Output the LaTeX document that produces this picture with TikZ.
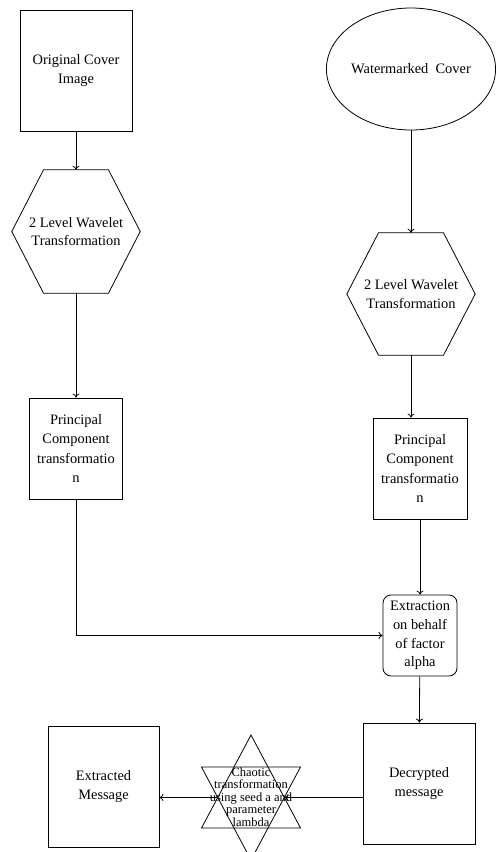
\documentclass[tikz,border=0pt]{standalone}
\usepackage{fontspec}
\setmainfont{Liberation Serif}
\usetikzlibrary{shapes.geometric,arrows.meta,calc}
\begin{document}
\begin{tikzpicture}[x=1pt,y=-1pt,
  every node/.style={font=\fontsize{14.4}{18.7}\selectfont, align=center, inner sep=0pt},
  box/.style={draw, rectangle, line width=0.8pt},
  pcatext/.style={font=\fontsize{14.4}{19.2}\selectfont},
  arr/.style={line width=0.8pt, -{To[length=4pt,width=7pt]}},
  shapeline/.style={line width=0.8pt, line join=miter}]
\clip (0,0) rectangle (498,852);
% left column
\node[box, minimum width=112, minimum height=121] (orig) at (76,70.5) {Original Cover\\Image};
\node[minimum width=128, minimum height=123] (hexA) at (76,231.5) {2 Level Wavelet\\Transformation};
\draw[shapeline] (hexA.west) -- ($(hexA.north)+(-32.5,0)$) -- ($(hexA.north)+(32.5,0)$) -- (hexA.east) -- ($(hexA.south)+(32.5,0)$) -- ($(hexA.south)+(-32.5,0)$) -- cycle;
\node[box, pcatext, minimum width=93, minimum height=101] (pcaA) at (76,448.5) {Principal\\Component\\transformatio\\n};
% right column
\node[draw, ellipse, line width=0.8pt, minimum width=168, minimum height=122] (wm) at (411,69) {Watermarked\ \ Cover};
\node[minimum width=128, minimum height=122] (hexB) at (411,294) {2 Level Wavelet\\Transformation};
\draw[shapeline] (hexB.west) -- ($(hexB.north)+(-32.5,0)$) -- ($(hexB.north)+(32.5,0)$) -- (hexB.east) -- ($(hexB.south)+(32.5,0)$) -- ($(hexB.south)+(-32.5,0)$) -- cycle;
\node[box, pcatext, minimum width=94, minimum height=101] (pcaB) at (420,468.5) {Principal\\Component\\transformatio\\n};
\node[box, rounded corners=8pt, minimum width=74, minimum height=81] (extr) at (420,635.5) {Extraction\\on behalf\\of factor\\alpha};
\node[box, minimum width=112, minimum height=121] (dec) at (419,783.5) {Decrypted\\message};
\node[box, minimum width=111, minimum height=121] (ext) at (103.5,786.5) {Extracted\\Message};
% star
\node[minimum width=66.6, minimum height=0] (chaos) at (251,797.5) {};
\draw[shapeline] ($(chaos)+(0,-62.5)$) -- ($(chaos)+(49.5,30.5)$) -- ($(chaos)+(-49.5,30.5)$) -- cycle;
\draw[shapeline] ($(chaos)+(0,62.5)$) -- ($(chaos)+(49.5,-30.5)$) -- ($(chaos)+(-49.5,-30.5)$) -- cycle;
\node[font=\fontsize{12.5}{12.5}\selectfont] (chaostext) at (251,797) {Chaotic\\transformation\\using seed a and\\parameter\\lambda};
% connectors
\draw[arr] (orig) -- (hexA);
\draw[arr] (hexA.south) -- (hexA.south |- pcaA.north);
\draw[arr] (wm) -- (hexB);
\draw[arr] (hexB.south) -- (hexB.south |- pcaB.north);
\draw[arr] (pcaB) -- (extr);
\draw[arr] (pcaA.south) |- (extr.west);
\draw[arr] (extr) -- (dec);
\draw[arr] (chaos.east -| dec.west) -- (chaos.east);
\draw[arr] (chaos.west) -- (chaos.west -| ext.east);
\end{tikzpicture}
\end{document}
